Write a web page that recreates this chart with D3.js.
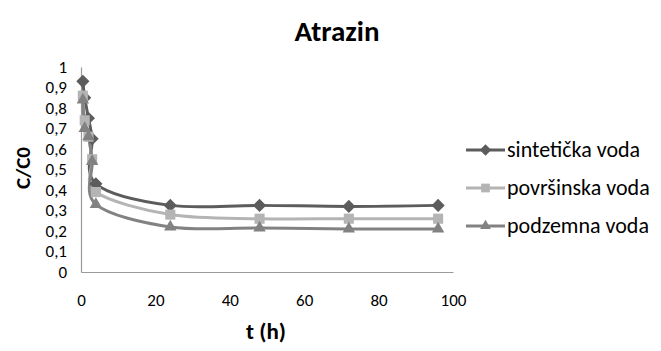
<!DOCTYPE html>
<html>
<head>
<meta charset="utf-8">
<script src="https://cdn.jsdelivr.net/npm/d3@7"></script>
<style>
  body { margin: 0; background: #fff; }
  text { font-family: Carlito, Lato, "Open Sans", sans-serif; }
</style>
</head>
<body>
<script>
// data
const times = [0.5, 1, 2, 3, 4, 24, 48, 72, 96];
const sinteticka = [0.93, 0.85, 0.75, 0.65, 0.43, 0.325, 0.325, 0.32, 0.325];
const povrsinska = [0.86, 0.74, 0.66, 0.55, 0.39, 0.28, 0.26, 0.26, 0.26];
const podzemna = [0.84, 0.70, 0.66, 0.54, 0.33, 0.22, 0.215, 0.21, 0.21];
const seriesNames = ["sintetička voda", "površinska voda", "podzemna voda"];
const xTicks = [0, 20, 40, 60, 80, 100];
const yTicks = [0, 0.1, 0.2, 0.3, 0.4, 0.5, 0.6, 0.7, 0.8, 0.9, 1];

const width = 661, height = 351;

const series = [
    { name: seriesNames[0], values: sinteticka, color: "#5c5c5c", symbol: d3.symbolDiamond2, size: 110 },
    { name: seriesNames[1], values: povrsinska, color: "#b4b4b4", symbol: d3.symbolSquare2, size: 130 },
    { name: seriesNames[2], values: podzemna, color: "#828282", symbol: d3.symbolTriangle2, size: 110 }
];

const svg = d3.select("body").append("svg")
    .attr("width", width)
    .attr("height", height);

const x = d3.scaleLinear().domain([0, 100]).range([81, 453]);
const y = d3.scaleLinear().domain([0, 1]).range([272, 67]);

// axes - plain lines without tick marks
svg.append("g")
    .attr("transform", `translate(0,${y(0)})`)
    .call(d3.axisBottom(x).tickValues(xTicks).tickSize(0).tickPadding(22).tickFormat(d3.format("d")))
    .call(g => g.select(".domain").attr("stroke", "#9a9a9a").attr("stroke-width", 1.2))
    .call(g => g.selectAll("text").attr("font-size", 17).attr("fill", "#000"));

svg.append("g")
    .attr("transform", `translate(${x(0)},0)`)
    .call(d3.axisLeft(y).tickValues(yTicks).tickSize(0).tickPadding(14)
        .tickFormat(d => d === 0 || d === 1 ? String(d) : d3.format(".1f")(d).replace(".", ",")))
    .call(g => g.select(".domain").attr("stroke", "#9a9a9a").attr("stroke-width", 1.2))
    .call(g => g.selectAll("text").attr("font-size", 17).attr("fill", "#000"));

// smoothed lines like the spreadsheet
const line = d3.line()
    .x((d, i) => x(times[i]))
    .y(d => y(d))
    .curve(d3.curveCardinal.tension(0));

series.forEach(s => {
    svg.append("path")
        .attr("d", line(s.values))
        .attr("fill", "none")
        .attr("stroke", s.color)
        .attr("stroke-width", 3);
});

series.forEach(s => {
    svg.append("g").selectAll("path")
        .data(s.values)
        .join("path")
        .attr("transform", (d, i) => `translate(${x(times[i])},${y(d)})`)
        .attr("d", d3.symbol().type(s.symbol).size(s.size))
        .attr("fill", s.color);
});

// title and axis titles
svg.append("text")
    .attr("x", 337).attr("y", 41)
    .attr("text-anchor", "middle")
    .attr("font-size", 29).attr("font-weight", "bold")
    .text("Atrazin");

svg.append("text")
    .attr("transform", "translate(30,168) rotate(-90)")
    .attr("text-anchor", "middle")
    .attr("font-size", 21).attr("font-weight", "bold")
    .text("C/C0");

svg.append("text")
    .attr("x", 266).attr("y", 339)
    .attr("text-anchor", "middle")
    .attr("font-size", 23).attr("font-weight", "bold")
    .text("t (h)");

// legend
const legend = svg.append("g");
series.forEach((s, i) => {
    const ly = 150 + i * 38;
    legend.append("line")
        .attr("x1", 466).attr("x2", 505)
        .attr("y1", ly).attr("y2", ly)
        .attr("stroke", s.color).attr("stroke-width", 3);
    legend.append("path")
        .attr("transform", `translate(485.5,${ly})`)
        .attr("d", d3.symbol().type(s.symbol).size(s.size * 0.75))
        .attr("fill", s.color);
    legend.append("text")
        .attr("x", 507).attr("y", ly + 7)
        .attr("font-size", 22)
        .text(s.name);
});
</script>
</body>
</html>
